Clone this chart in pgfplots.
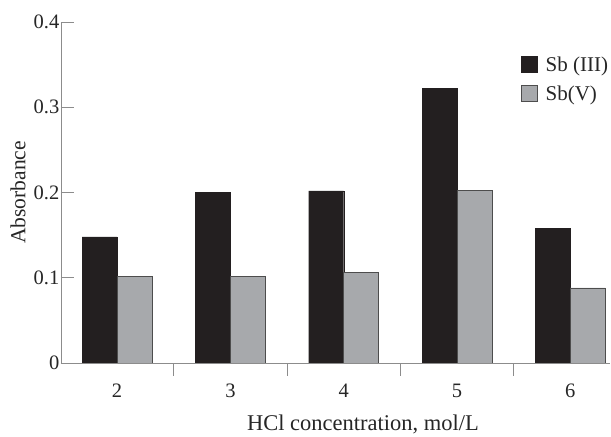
\documentclass[border=0pt]{standalone}
\usepackage{fontspec}
\setmainfont{Liberation Serif}
\usepackage{pgfplots}
\pgfplotsset{compat=1.18}
\definecolor{barblack}{HTML}{231F20}
\definecolor{bargray}{HTML}{A7A9AC}
\definecolor{axisgray}{HTML}{8C8C8C}
\definecolor{edgegray}{HTML}{4D4D4D}
\begin{document}
\begin{tikzpicture}
\begin{axis}[
  name=ax,
  scale only axis,
  width=549pt, height=341pt,
  xmin=1.505, xmax=6.35,
  ymin=0, ymax=0.4,
  axis x line*=bottom,
  axis y line*=left,
  axis line style={-, draw=axisgray, line width=0.9pt},
  every outer x axis line/.append style={-},
  every outer y axis line/.append style={-},
  tick align=inside,
  major tick length=13pt,
  tick style={draw=axisgray, line width=0.9pt},
  ytick={0,0.1,0.2,0.3,0.4},
  yticklabels={0,0.1,0.2,0.3,0.4},
  xtick={2.5,3.5,4.5,5.5},
  xticklabels={},
  extra x ticks={2,3,4,5,6},
  extra x tick labels={2,3,4,5,6},
  extra x tick style={major tick length=0pt},
  /pgf/number format/assume math mode=true,
  ticklabel style={font=\fontsize{20.5}{24}\selectfont, text=black!85},
  yticklabel style={inner sep=1.5pt},
  xticklabel style={anchor=base, yshift=-35pt},
  xlabel={HCl concentration, mol/L},
  xlabel style={font=\fontsize{22.5}{26}\selectfont, text=black!85, at={(axis description cs:0.55,0)}, anchor=base, yshift=-68pt},
  ylabel={Absorbance},
  ylabel style={font=\fontsize{21.5}{25}\selectfont, text=black!85, at={(axis description cs:0,0.5)}, anchor=center, rotate=0, yshift=43pt},
  ybar, bar width=0.309, 
  legend style={draw=none, fill=none, at={(axis description cs:0.838,0.905)}, anchor=north west,
    font=\fontsize{21}{25}\selectfont, text=black!85, row sep=9pt, inner sep=0pt},
  legend cell align=left,
  legend image code/.code={\draw[#1] (0pt,-8pt) rectangle (16pt,8pt); \path[draw=none,fill=none] (16pt,0pt) -- (22pt,0pt);},
]
\addplot[fill=barblack, draw=barblack, bar shift=-0.1545] coordinates {(2,0.148) (3,0.200) (4,0.202) (5,0.322) (6,0.158)};
\addplot[fill=bargray, draw=edgegray, line width=0.8pt, bar shift=0.1545] coordinates {(2,0.102) (3,0.102) (4,0.106) (5,0.202) (6,0.088)};
\legend{Sb (III), Sb(V)}
\end{axis}
\pgfresetboundingbox
\path[use as bounding box] ([shift={(-61pt,-74pt)}]ax.south west) rectangle ([shift={(1pt,22pt)}]ax.north east);
\end{tikzpicture}
\end{document}
